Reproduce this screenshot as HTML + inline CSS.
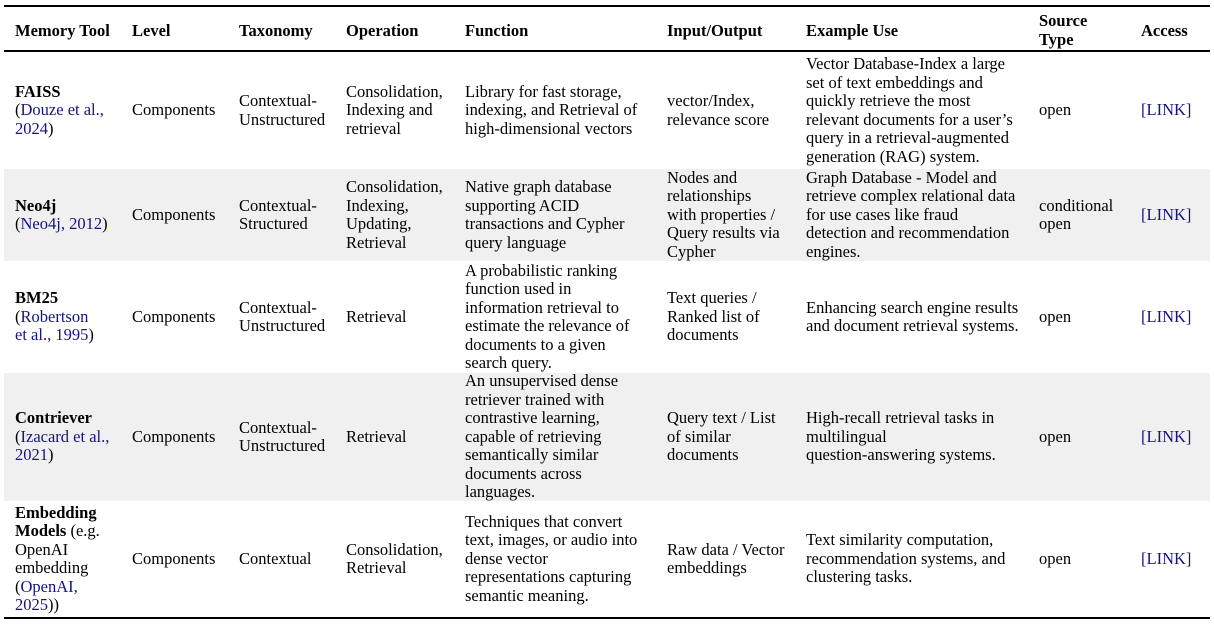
<!DOCTYPE html>
<html><head><meta charset="utf-8"><style>
body{margin:0;width:1214px;height:624px;background:#fff;position:relative;overflow:hidden;font-family:"Liberation Serif",serif;font-size:16.5px;color:#000;}
.rule{position:absolute;left:4px;width:1206px;background:#000;}
.row{position:absolute;left:4px;width:1206px;}
.c{position:absolute;top:0;bottom:0;display:flex;align-items:center;white-space:nowrap;line-height:18.5px;}
.h{font-weight:bold;}
.l{color:#15157a;}
.g{background:#f0f0f0;}
</style></head><body>
<div class="rule" style="top:5px;height:2px"></div>
<div class="rule" style="top:50px;height:1.5px"></div>
<div class="rule" style="top:617px;height:1.5px"></div>

<div class="row h" style="top:10px;height:43px">
<div class="c" style="left:11px">Memory Tool</div>
<div class="c" style="left:128px">Level</div>
<div class="c" style="left:235px">Taxonomy</div>
<div class="c" style="left:342px">Operation</div>
<div class="c" style="left:461px">Function</div>
<div class="c" style="left:663px">Input/Output</div>
<div class="c" style="left:802px">Example Use</div>
<div class="c" style="left:1035px;line-height:18.5px;top:-2px">Source<br>Type</div>
<div class="c" style="left:1137px">Access</div>
</div>

<div class="row" style="top:52px;height:117px">
<div class="c" style="left:11px"><div><b>FAISS</b><br>(<span class="l">Douze et al.,</span><br><span class="l">2024</span>)</div></div>
<div class="c" style="left:128px">Components</div>
<div class="c" style="left:235px"><div>Contextual-<br>Unstructured</div></div>
<div class="c" style="left:342px"><div>Consolidation,<br>Indexing and<br>retrieval</div></div>
<div class="c" style="left:461px"><div>Library for fast storage,<br>indexing, and Retrieval of<br>high-dimensional vectors</div></div>
<div class="c" style="left:663px"><div>vector/Index,<br>relevance score</div></div>
<div class="c" style="left:802px"><div>Vector Database-Index a large<br>set of text embeddings and<br>quickly retrieve the most<br>relevant documents for a user’s<br>query in a retrieval-augmented<br>generation (RAG) system.</div></div>
<div class="c" style="left:1035px">open</div>
<div class="c l" style="left:1137px">[LINK]</div>
</div>

<div class="row g" style="top:169px;height:92px">
<div class="c" style="left:11px"><div><b>Neo4j</b><br>(<span class="l">Neo4j, 2012</span>)</div></div>
<div class="c" style="left:128px">Components</div>
<div class="c" style="left:235px"><div>Contextual-<br>Structured</div></div>
<div class="c" style="left:342px"><div>Consolidation,<br>Indexing,<br>Updating,<br>Retrieval</div></div>
<div class="c" style="left:461px"><div>Native graph database<br>supporting ACID<br>transactions and Cypher<br>query language</div></div>
<div class="c" style="left:663px"><div>Nodes and<br>relationships<br>with properties /<br>Query results via<br>Cypher</div></div>
<div class="c" style="left:802px"><div>Graph Database - Model and<br>retrieve complex relational data<br>for use cases like fraud<br>detection and recommendation<br>engines.</div></div>
<div class="c" style="left:1035px"><div>conditional<br>open</div></div>
<div class="c l" style="left:1137px">[LINK]</div>
</div>

<div class="row" style="top:261px;height:112px">
<div class="c" style="left:11px"><div><b>BM25</b><br>(<span class="l">Robertson</span><br><span class="l">et al., 1995</span>)</div></div>
<div class="c" style="left:128px">Components</div>
<div class="c" style="left:235px"><div>Contextual-<br>Unstructured</div></div>
<div class="c" style="left:342px">Retrieval</div>
<div class="c" style="left:461px"><div>A probabilistic ranking<br>function used in<br>information retrieval to<br>estimate the relevance of<br>documents to a given<br>search query.</div></div>
<div class="c" style="left:663px"><div>Text queries /<br>Ranked list of<br>documents</div></div>
<div class="c" style="left:802px"><div>Enhancing search engine results<br>and document retrieval systems.</div></div>
<div class="c" style="left:1035px">open</div>
<div class="c l" style="left:1137px">[LINK]</div>
</div>

<div class="row g" style="top:373px;height:128px">
<div class="c" style="left:11px"><div><b>Contriever</b><br>(<span class="l">Izacard et al.,</span><br><span class="l">2021</span>)</div></div>
<div class="c" style="left:128px">Components</div>
<div class="c" style="left:235px"><div>Contextual-<br>Unstructured</div></div>
<div class="c" style="left:342px">Retrieval</div>
<div class="c" style="left:461px"><div>An unsupervised dense<br>retriever trained with<br>contrastive learning,<br>capable of retrieving<br>semantically similar<br>documents across<br>languages.</div></div>
<div class="c" style="left:663px"><div>Query text / List<br>of similar<br>documents</div></div>
<div class="c" style="left:802px"><div>High-recall retrieval tasks in<br>multilingual<br>question-answering systems.</div></div>
<div class="c" style="left:1035px">open</div>
<div class="c l" style="left:1137px">[LINK]</div>
</div>

<div class="row" style="top:501px;height:116px">
<div class="c" style="left:11px"><div><b>Embedding</b><br><b>Models</b> (e.g.<br>OpenAI<br>embedding<br>(<span class="l">OpenAI,</span><br><span class="l">2025</span>))</div></div>
<div class="c" style="left:128px">Components</div>
<div class="c" style="left:235px">Contextual</div>
<div class="c" style="left:342px"><div>Consolidation,<br>Retrieval</div></div>
<div class="c" style="left:461px"><div>Techniques that convert<br>text, images, or audio into<br>dense vector<br>representations capturing<br>semantic meaning.</div></div>
<div class="c" style="left:663px"><div>Raw data / Vector<br>embeddings</div></div>
<div class="c" style="left:802px"><div>Text similarity computation,<br>recommendation systems, and<br>clustering tasks.</div></div>
<div class="c" style="left:1035px">open</div>
<div class="c l" style="left:1137px">[LINK]</div>
</div>
</body></html>
